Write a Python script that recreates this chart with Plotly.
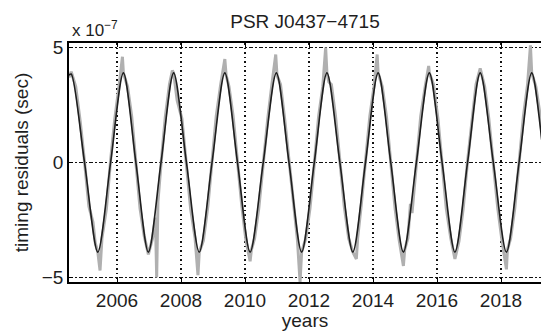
import plotly.graph_objects as go

# ---- data (timing residuals in units of 1e-7 s) ----
fit_years = [2004.50, 2004.57, 2004.985, 2005.40, 2005.80, 2006.20, 2006.59, 2006.98,
             2007.375, 2007.77, 2008.17, 2008.57, 2008.97, 2009.37, 2009.765, 2010.16,
             2010.57, 2010.98, 2011.375, 2011.77, 2012.165, 2012.56, 2012.965, 2013.37,
             2013.765, 2014.16, 2014.555, 2014.95, 2015.355, 2015.76, 2016.16, 2016.56,
             2016.955, 2017.35, 2017.76, 2018.17, 2018.565, 2018.96, 2019.36, 2019.76]
fit_resid = [3.8, 3.85, 0, -3.9, 0, 3.9, 0, -3.9,
             0, 3.9, 0, -3.9, 0, 3.9, 0, -3.9,
             0, 3.9, 0, -3.9, 0, 3.9, 0, -3.9,
             0, 3.9, 0, -3.9, 0, 3.9, 0, -3.9,
             0, 3.9, 0, -3.9, 0, 3.9, 0, -3.9]

obs_years = [2004.50, 2004.57, 2004.71, 2004.85, 2004.98, 2005.12, 2005.25, 2005.32, 2005.40, 2005.47,
             2005.53, 2005.67, 2005.80, 2005.93, 2006.07, 2006.17, 2006.20,
             2006.33, 2006.46, 2006.59, 2006.72, 2006.85, 2006.98,
             2007.11, 2007.20, 2007.24, 2007.28, 2007.38, 2007.51, 2007.64, 2007.73, 2007.77,
             2007.88, 2008.03, 2008.17, 2008.30, 2008.44, 2008.53, 2008.57,
             2008.70, 2008.84, 2008.97, 2009.10, 2009.24, 2009.37, 2009.41,
             2009.50, 2009.63, 2009.76, 2009.90, 2010.03, 2010.16, 2010.20,
             2010.30, 2010.43, 2010.57, 2010.71, 2010.84, 2010.96, 2011.00,
             2011.11, 2011.24, 2011.38, 2011.51, 2011.64, 2011.72, 2011.77,
             2011.90, 2012.03, 2012.17, 2012.30, 2012.43, 2012.52, 2012.56,
             2012.62, 2012.70, 2012.83, 2012.97, 2013.10, 2013.24, 2013.37,
             2013.48, 2013.52, 2013.63, 2013.76, 2013.90, 2014.03, 2014.13, 2014.16,
             2014.29, 2014.42, 2014.55, 2014.69, 2014.82, 2014.95, 2014.99,
             2015.09, 2015.17, 2015.22, 2015.36, 2015.49, 2015.63, 2015.74, 2015.76,
             2015.89, 2016.03, 2016.16, 2016.29, 2016.43, 2016.56,
             2016.69, 2016.82, 2016.95, 2017.09, 2017.22, 2017.35,
             2017.49, 2017.62, 2017.76, 2017.90, 2018.03, 2018.17, 2018.20,
             2018.30, 2018.43, 2018.56, 2018.70, 2018.83, 2018.92, 2018.96,
             2019.09, 2019.23, 2019.36]
obs_resid = [3.7, 3.95, 3.3, 1.8, 0.1, -1.9, -2.6, -3.5, -3.9, -4.7,
             -3.3, -2.0, 0.1, 1.9, 3.4, 4.6, 3.9,
             3.3, 2.0, -0.1, -2.0, -3.2, -4.0,
             -3.3, -2.4, -5.0, -1.7, 0.0, 2.0, 3.4, 4.0, 3.9,
             2.7, 1.9, 0.0, -2.0, -3.3, -4.9, -3.9,
             -3.4, -1.9, 0.1, 2.0, 3.4, 4.5, 3.8,
             3.3, 2.0, 0.0, -1.9, -3.4, -4.3, -3.8,
             -3.3, -2.0, 0.0, 1.9, 3.4, 4.7, 3.8,
             3.4, 1.9, 0.0, -1.9, -3.4, -5.2, -3.9,
             -3.3, -2.0, 0.0, 2.0, 3.3, 5.0, 3.9,
             3.5, 3.4, 2.0, 0.0, -1.9, -3.3, -3.9,
             -4.2, -3.3, -1.9, 0.1, 2.0, 3.3, 4.7, 3.9,
             3.3, 2.0, 0.0, -2.0, -3.4, -4.5, -3.8,
             -3.3, -1.8, -2.2, 0.0, 2.0, 3.3, 4.2, 3.9,
             3.4, 1.9, 0.0, -2.0, -3.3, -4.2,
             -3.4, -2.0, 0.0, 1.9, 3.4, 4.1,
             3.3, 1.9, 0.0, -2.0, -3.4, -4.65, -3.8,
             -3.3, -2.0, 0.0, 2.0, 3.4, 5.1, 3.9,
             3.3, 2.0, 0.0]

x_ticks = [2006, 2008, 2010, 2012, 2014, 2016, 2018]
y_ticks = [-5, 0, 5]

FONT = "Liberation Sans, Arial, Helvetica, sans-serif"
TXT = "#1e1e1e"
FS = 19

fig = go.Figure()
fig.add_trace(go.Scatter(x=obs_years, y=obs_resid, mode="lines",
                         line=dict(color="#b0b0b0", width=3.0),
                         showlegend=False, hoverinfo="skip"))
fig.add_trace(go.Scatter(x=fit_years, y=fit_resid, mode="lines",
                         line=dict(color="#1e1e1e", width=1.6, shape="spline", smoothing=0.85),
                         showlegend=False, hoverinfo="skip"))

fig.update_layout(
    width=541, height=331,
    margin=dict(l=69, r=0, t=43, b=49),
    paper_bgcolor="white", plot_bgcolor="white",
    font=dict(family=FONT, size=FS, color=TXT),
    title=dict(text="PSR J0437\u22124715", x=0.5, xref="paper", xanchor="center",
               y=1.0, yref="paper", yanchor="bottom", pad=dict(b=15),
               font=dict(family=FONT, size=FS, color=TXT)),
    xaxis=dict(range=[2004.5, 2019.25], tickvals=x_ticks,
               ticktext=[str(v) for v in x_ticks],
               ticks="inside", ticklen=4, tickwidth=1, tickcolor="black",
               showline=True, linecolor="black", linewidth=1.6, mirror="ticks",
               showgrid=True, gridcolor="#111", gridwidth=1.5, griddash="1.5px,3px",
               zeroline=False,
               title=dict(text="years", standoff=0, font=dict(family=FONT, size=FS, color=TXT)),
               tickfont=dict(family=FONT, size=FS, color=TXT)),
    yaxis=dict(range=[-5.2, 5.2], tickvals=y_ticks,
               ticks="inside", ticklen=4, tickwidth=1, tickcolor="black",
               showline=True, linecolor="black", linewidth=1.6, mirror=False,
               showgrid=True, gridcolor="#111", gridwidth=1.3, griddash="3.5px,2.5px,1.5px,2.5px",
               zeroline=False,
               title=dict(text="timing residuals (sec)", standoff=8,
                          font=dict(family=FONT, size=FS, color=TXT)),
               tickfont=dict(family=FONT, size=FS, color=TXT)),
)

fig.add_annotation(text="x 10<sup>\u22127</sup>", xref="paper", yref="paper",
                   x=0.0, y=1.0, xanchor="left", yanchor="bottom", yshift=1, xshift=1,
                   showarrow=False, font=dict(family=FONT, size=17, color=TXT))

fig.write_html("out.html")
